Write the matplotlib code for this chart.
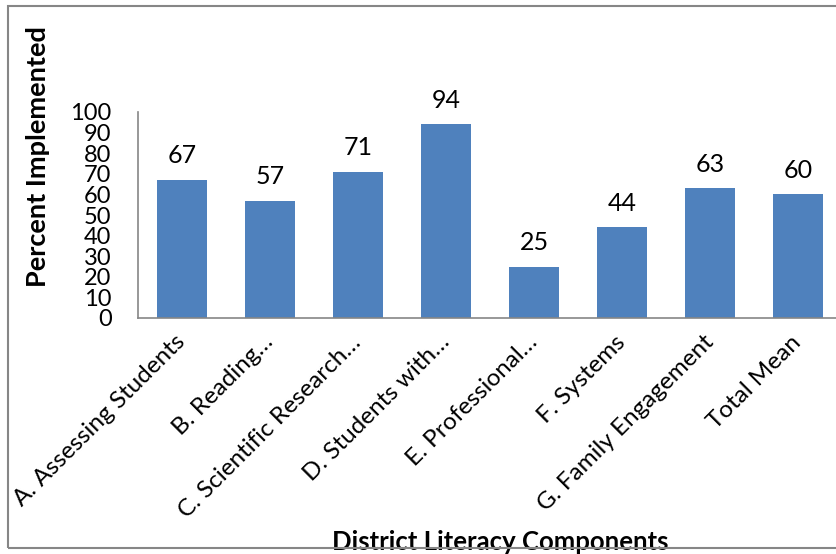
import matplotlib.pyplot as plt
import matplotlib.patches as patches
import numpy as np

# Daten aus dem Diagramm
categories = ["A. Assessing Students", "B. Reading…", "C. Scientific Research…",
              "D. Students with…", "E. Professional…", "F. Systems",
              "G. Family Engagement", "Total Mean"]
percent = [67, 57, 71, 94, 25, 44, 63, 60]
y_ticks = list(range(0, 101, 10))

plt.rcParams['font.family'] = ['Lato', 'DejaVu Sans']

W, H = 836, 554
fig = plt.figure(figsize=(W / 100, H / 100), dpi=100)
fig.patch.set_facecolor('white')

# Achsen in Pixeln: links 138, rechts 842, oben 112, unten 318
left, right, top, bottom = 138, 842, 112, 318
ax = fig.add_axes([left / W, 1 - bottom / H, (right - left) / W, (bottom - top) / H])

x = np.arange(len(categories))
ax.bar(x, percent, width=0.57, color='#4F81BD')

for xi, v in zip(x, percent):
    ax.annotate(str(v), (xi, v), xytext=(0, 9), textcoords='offset points',
                ha='center', va='bottom', fontsize=18)

ax.set_xlim(-0.5, len(categories) - 0.5)
ax.set_ylim(0, 100)
ax.set_yticks(y_ticks)
ax.set_yticklabels([str(t) for t in y_ticks], fontsize=17)
ax.set_xticks(x)
ax.set_xticklabels(categories, fontsize=17.5, rotation=45, ha='right',
                   va='center', rotation_mode='anchor')
ax.tick_params(axis='both', length=0)
ax.tick_params(axis='y', pad=19)
ax.tick_params(axis='x', pad=15)

for s in ['top', 'right']:
    ax.spines[s].set_visible(False)
for s in ['left', 'bottom']:
    ax.spines[s].set_color('#868686')
    ax.spines[s].set_linewidth(1.2)

fig.text(38 / W, 1 - 157 / H, 'Percent Implemented', rotation=90,
         ha='center', va='center', fontsize=19.5, fontweight='bold')
fig.text(500 / W, 1 - 550 / H, 'District Literacy Components',
         ha='center', va='baseline', fontsize=18.5, fontweight='bold')

# Rahmen um das Diagramm
border = patches.Rectangle((8 / W, 1 - 548 / H), 1.0, (548 - 6) / H,
                           transform=fig.transFigure, fill=False,
                           edgecolor='#868686', linewidth=1.5, zorder=10)
fig.patches.append(border)

fig.savefig('out.png', dpi=100)
